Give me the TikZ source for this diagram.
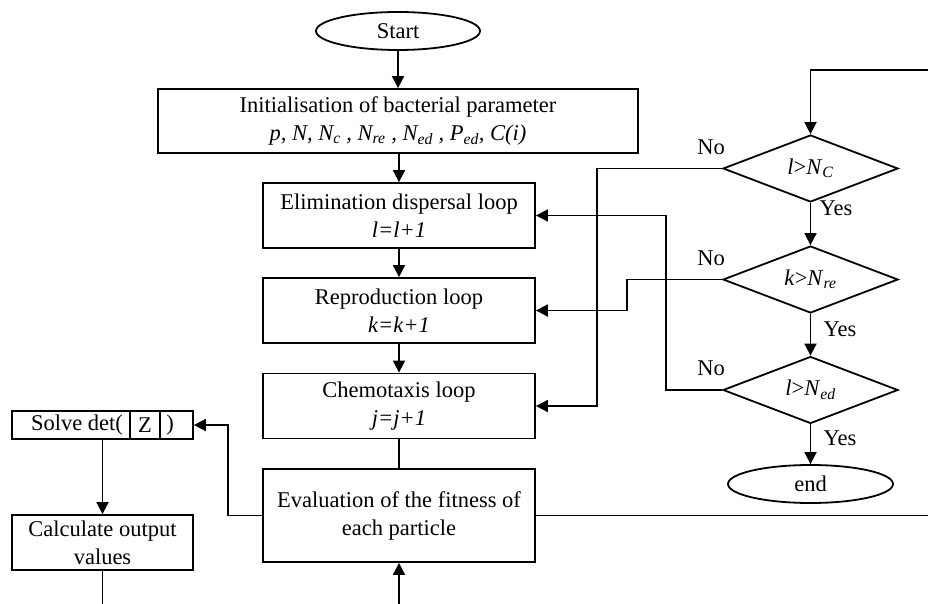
\documentclass[tikz,border=0pt]{standalone}
\usepackage{fontspec}
\setmainfont{Liberation Serif}
\usetikzlibrary{shapes.geometric,arrows.meta}
\newcommand{\sbi}[1]{\textsubscript{\textit{#1}}}
\begin{document}
\begin{tikzpicture}[x=1pt,y=-1pt,
  every node/.style={font=\fontsize{22.5}{28}\selectfont},
  line/.style={line width=1.8pt},
  arr/.style={line width=1.8pt,-{Triangle[length=12pt,width=12pt]}},
  box/.style={draw,line width=1.8pt,rectangle,inner sep=0pt,align=center},
  oval/.style={draw,line width=1.8pt,ellipse,inner sep=0pt,minimum width=164pt,minimum height=38pt},
  dia/.style={draw,line width=1.8pt,diamond,inner sep=0pt,minimum width=175pt,minimum height=67pt,shape aspect=2.6},
  lbl/.style={inner sep=0pt}]
\useasboundingbox (0,0) rectangle (928,604);
\fill[white] (0,0) rectangle (928,604);
% left column
\node[oval] (start) at (398,31) {Start};
\node[box,minimum width=480pt,minimum height=64pt] (init) at (398,121)
  {Initialisation of bacterial parameter\\
   \textit{p, N, N\sbi{c} , N\sbi{re} , N\sbi{ed} , P\sbi{ed}, C(i)}};
\node[box,minimum width=272pt,minimum height=65pt] (elim) at (399,215.5)
  {Elimination dispersal loop\\ \textit{l=l+1}};
\node[box,minimum width=272pt,minimum height=65pt] (repro) at (399,310.5)
  {Reproduction loop\\ \textit{k=k+1}};
\node[box,minimum width=272pt,minimum height=65pt] (chemo) at (399,406)
  {Chemotaxis loop\\ \textit{j=j+1}};
\node[box,minimum width=272pt,minimum height=93pt] (eval) at (399,515.5)
  {Evaluation of the fitness of\\ each particle};
% solve det box
\node[box,minimum width=181pt,minimum height=28pt] (solve) at (102.5,425) {};
\draw[line] (130,411) -- (130,439);
\draw[line] (160,411) -- (160,439);
\node[lbl] (solvet) at (77,425) {Solve det(};
\node[lbl] (zt) at (145,425) {Z};
\node[lbl] (pt) at (170,425) {)};
\node[box,minimum width=181pt,minimum height=55pt] (calc) at (102.5,542.5)
  {Calculate output\\ values};
% diamonds
\node[dia] (d1) at (810.5,168.5) {\textit{l}{>}\textit{N}\sbi{C}};
\node[dia] (d2) at (810.5,279.5) {\textit{k}{>}\textit{N}\sbi{re}};
\node[dia] (d3) at (810.5,390) {\textit{l}{>}\textit{N}\sbi{ed}};
\node[oval,minimum width=165pt] (end) at (810.5,484) {end};
% labels
\node[lbl] (no1) at (711,147) {No};
\node[lbl] (no2) at (711,258) {No};
\node[lbl] (no3) at (711,368) {No};
\node[lbl] (yes1) at (836,208) {Yes};
\node[lbl] (yes2) at (840,329) {Yes};
\node[lbl] (yes3) at (840,438) {Yes};
% free ends
\coordinate (bot) at (399,604);
\coordinate (botl) at (102.5,604);
\coordinate (eR) at (928,515.5);
\coordinate (tR) at (928,70);
% connectors
\draw[arr] (start.south) -- (init.north);
\draw[arr] (init.south -| elim.north) -- (elim.north);
\draw[arr] (elim.south) -- (repro.north);
\draw[arr] (repro.south) -- (chemo.north);
\draw[line] (chemo.south) -- (eval.north);
\draw[arr] (bot) -- (eval.south);
\draw[line] (eval.east) -- (eR);
\draw[arr] (tR) -- (810.5,70) -- (d1.north);
\draw[arr] (d1.south) -- (d2.north);
\draw[arr] (d2.south) -- (d3.north);
\draw[arr] (d3.south) -- (end.north);
\draw[arr] (d1.west) -- (597,168.5) |- (chemo.east);
\draw[arr] (d2.west) -- (627,279.5) |- (repro.east);
\draw[arr] (d3.west) -- (666,390) |- (elim.east);
\draw[arr] (eval.west) -- (228,515.5) |- (solve.east);
\draw[arr] (solve.south) -- (calc.north);
\draw[line] (calc.south) -- (botl);
\end{tikzpicture}
\end{document}
